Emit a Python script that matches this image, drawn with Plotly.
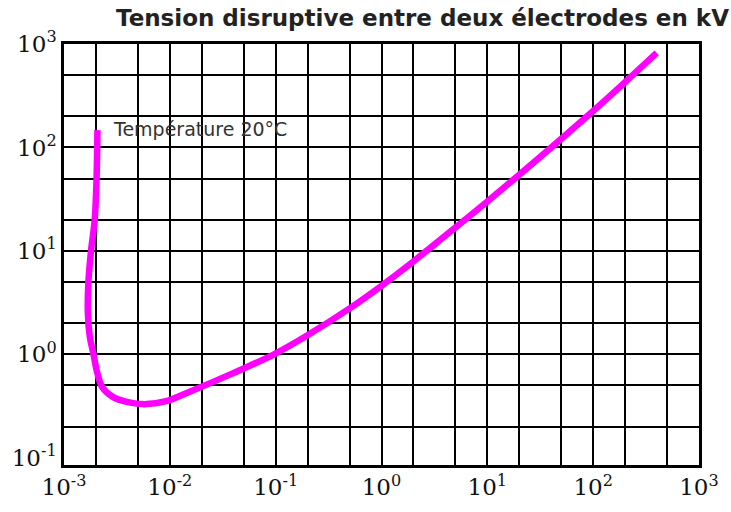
import plotly.graph_objects as go
import numpy as np

# Paschen curve data: gap distance vs breakdown voltage
distance = [2.07e-3, 2.03e-3, 1.95e-3, 1.8e-3, 1.7e-3, 1.68e-3, 1.75e-3, 1.9e-3,
            2.07e-3, 2.3e-3, 2.86e-3, 4.0e-3, 6.0e-3, 9.0e-3, 0.0158, 0.0373,
            0.0944, 0.2, 0.5, 1.0, 2.0, 4.0, 10, 100, 398]
voltage = [147, 50, 20, 10, 5, 2.5, 1.5, 1.0,
           0.65, 0.48, 0.39, 0.345, 0.33, 0.35, 0.44, 0.64,
           0.99, 1.53, 2.78, 4.6, 7.9, 14.0, 30, 225, 821]

x_decades = [-3, -2, -1, 0, 1, 2, 3]
y_decades = [-1, 0, 1, 2, 3]
grid_mults = [1, 2, 5]
title_text = "Tension disruptive entre deux électrodes en kV"
note_text = "Température 20°C"

x_major = [10.0 ** d for d in x_decades]
x_labels = [f"10<sup>{d}</sup>" for d in x_decades]
y_major = [10.0 ** d for d in y_decades]
y_labels = [f"10<sup>{d}</sup>" for d in y_decades]
x_grid = [m * 10.0 ** d for d in x_decades[:-1] for m in grid_mults]
y_grid = [m * 10.0 ** d for d in y_decades[:-1] for m in grid_mults if m * 10.0 ** d > 0.15]

fig = go.Figure()
fig.add_trace(go.Scatter(
    x=distance, y=voltage, mode="lines",
    line=dict(color="#ff00ff", width=6.5, shape="spline", smoothing=1.0),
    showlegend=False, hoverinfo="skip",
))

tick_font = dict(family="DejaVu Serif, serif", size=23, color="#111")
axis_common = dict(
    type="log", showline=True, linecolor="#000", linewidth=2.5, mirror=True,
    zeroline=False, ticks="", tickfont=tick_font,
)
fig.update_xaxes(range=[-3, 3], tickvals=x_major, ticktext=x_labels, showgrid=False,
                 minor=dict(tickvals=x_grid, showgrid=True, gridcolor="#000", gridwidth=2, ticks=""),
                 **axis_common)
fig.update_yaxes(range=[-1.07, 3], tickvals=y_major, ticktext=y_labels, showgrid=False,
                 ticklabelstandoff=0,
                 minor=dict(tickvals=y_grid, showgrid=True, gridcolor="#000", gridwidth=2, ticks=""),
                 **axis_common)

fig.add_annotation(
    xref="paper", yref="paper", x=1.05, y=1.0, yshift=26,
    xanchor="right", yanchor="middle", showarrow=False,
    text=f"<b>{title_text}</b>",
    font=dict(family="DejaVu Sans, sans-serif", size=23, color="#222"),
)
fig.add_annotation(
    x=np.log10(2.75e-3), y=np.log10(150), xanchor="left", yanchor="middle",
    showarrow=False, text=note_text,
    font=dict(family="DejaVu Sans, sans-serif", size=19, color="#333"),
)

fig.update_layout(
    width=731, height=512,
    margin=dict(l=61, r=25, t=44, b=31),
    paper_bgcolor="white", plot_bgcolor="white",
)

fig.write_html("out.html")
